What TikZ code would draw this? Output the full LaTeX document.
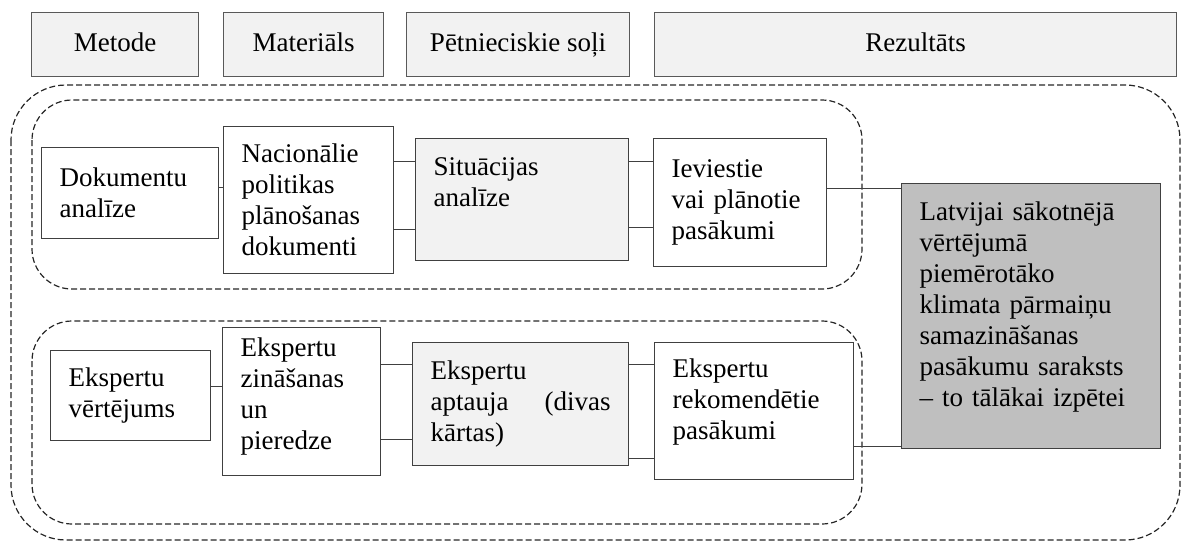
\documentclass[tikz,border=0pt]{standalone}
\usepackage{fontspec}
\setmainfont{Liberation Serif}

\definecolor{headfill}{HTML}{F2F2F2}
\definecolor{resfill}{HTML}{BFBFBF}
\definecolor{linegray}{HTML}{404040}

\begin{document}
\begin{tikzpicture}[
  x=1pt, y=-1pt,
  every node/.style={font=\fontsize{27}{31}\selectfont},
  head/.style={rectangle, draw=black!65, line width=1.2pt, fill=headfill, minimum height=64pt, anchor=north west, inner sep=0pt, text height=19pt, text depth=6pt},
  cell/.style={rectangle, draw=linegray, line width=1.3pt, fill=white, anchor=north west, align=left, inner xsep=18pt, inner ysep=0pt},
  shaded/.style={cell, fill=headfill},
  result/.style={cell, fill=resfill},
  link/.style={draw=linegray, line width=1.2pt},
  group/.style={draw=black!85, line width=1.2pt, dash pattern=on 6pt off 3pt, rounded corners=#1},
  group/.default=40pt
]
\useasboundingbox (0,0) rectangle (1182,544);

% dashed frames
\draw[group=55pt] (11,85) rectangle (1180,540);
\draw[group] (32,100) rectangle (862,289);
\draw[group] (32,321) rectangle (862,524);

% column heads
\node[head, minimum width=167pt] (hmet) at (31,12) {Metode};
\node[head, minimum width=160pt] (hmat) at (223,12) {Materiāls};
\node[head, minimum width=223pt] (hsol) at (406,12) {Pētnieciskie soļi};
\node[head, minimum width=522pt] (hrez) at (654,12) {Rezultāts};

% upper row
\node[cell, minimum width=177pt, minimum height=91pt, text width=141pt] (dok) at (41,147) {Dokumentu\\analīze};
\node[cell, minimum width=170pt, minimum height=147pt, text width=134pt] (nac) at (223,126) {Nacionālie\\politikas\\plānošanas\\dokumenti};
\node[shaded, minimum width=213pt, minimum height=122pt, text width=177pt, text depth=66pt] (sit) at (415,138) {Situācijas\\analīze};
\node[cell, minimum width=173pt, minimum height=128pt, text width=137pt] (iev) at (653,138) {Ieviestie\\vai plānotie\\pasākumi};

% lower row
\node[cell, minimum width=160pt, minimum height=90pt, text width=124pt] (ver) at (50,350) {Ekspertu\\vērtējums};
\node[cell, minimum width=158pt, minimum height=148pt, text width=122pt, text depth=110pt] (zin) at (222,327) {Ekspertu\\zināšanas\\un\\pieredze};
\node[shaded, minimum width=216pt, minimum height=123pt, text width=180pt] (apt) at (412,342) {Ekspertu\\aptauja\hfill(divas\\kārtas)};
\node[cell, minimum width=199pt, minimum height=137pt, text width=163pt, text depth=86pt] (rek) at (654,342) {Ekspertu\\rekomendētie\\pasākumi};

% outcome
\node[result, minimum width=259pt, minimum height=265pt, text width=223pt, text depth=210pt] (res) at (901,183) {Latvijai sākotnējā\\vērtējumā\\piemērotāko\\klimata pārmaiņu\\samazināšanas\\pasākumu saraksts\\– to tālākai izpētei};

\foreach \a/\b/\s in {dok/nac/5.5, nac/sit/38.5, nac/sit/-29.5, sit/iev/38, sit/iev/-28, iev/res/14,
    ver/zin/9, zin/apt/37, zin/apt/-38, apt/rek/39.5, apt/rek/-54.5, rek/res/-35.5}
  \draw[link] ([yshift=\s pt]\a.east) -- ([yshift=\s pt]\a.east -| \b.west);

\end{tikzpicture}
\end{document}
